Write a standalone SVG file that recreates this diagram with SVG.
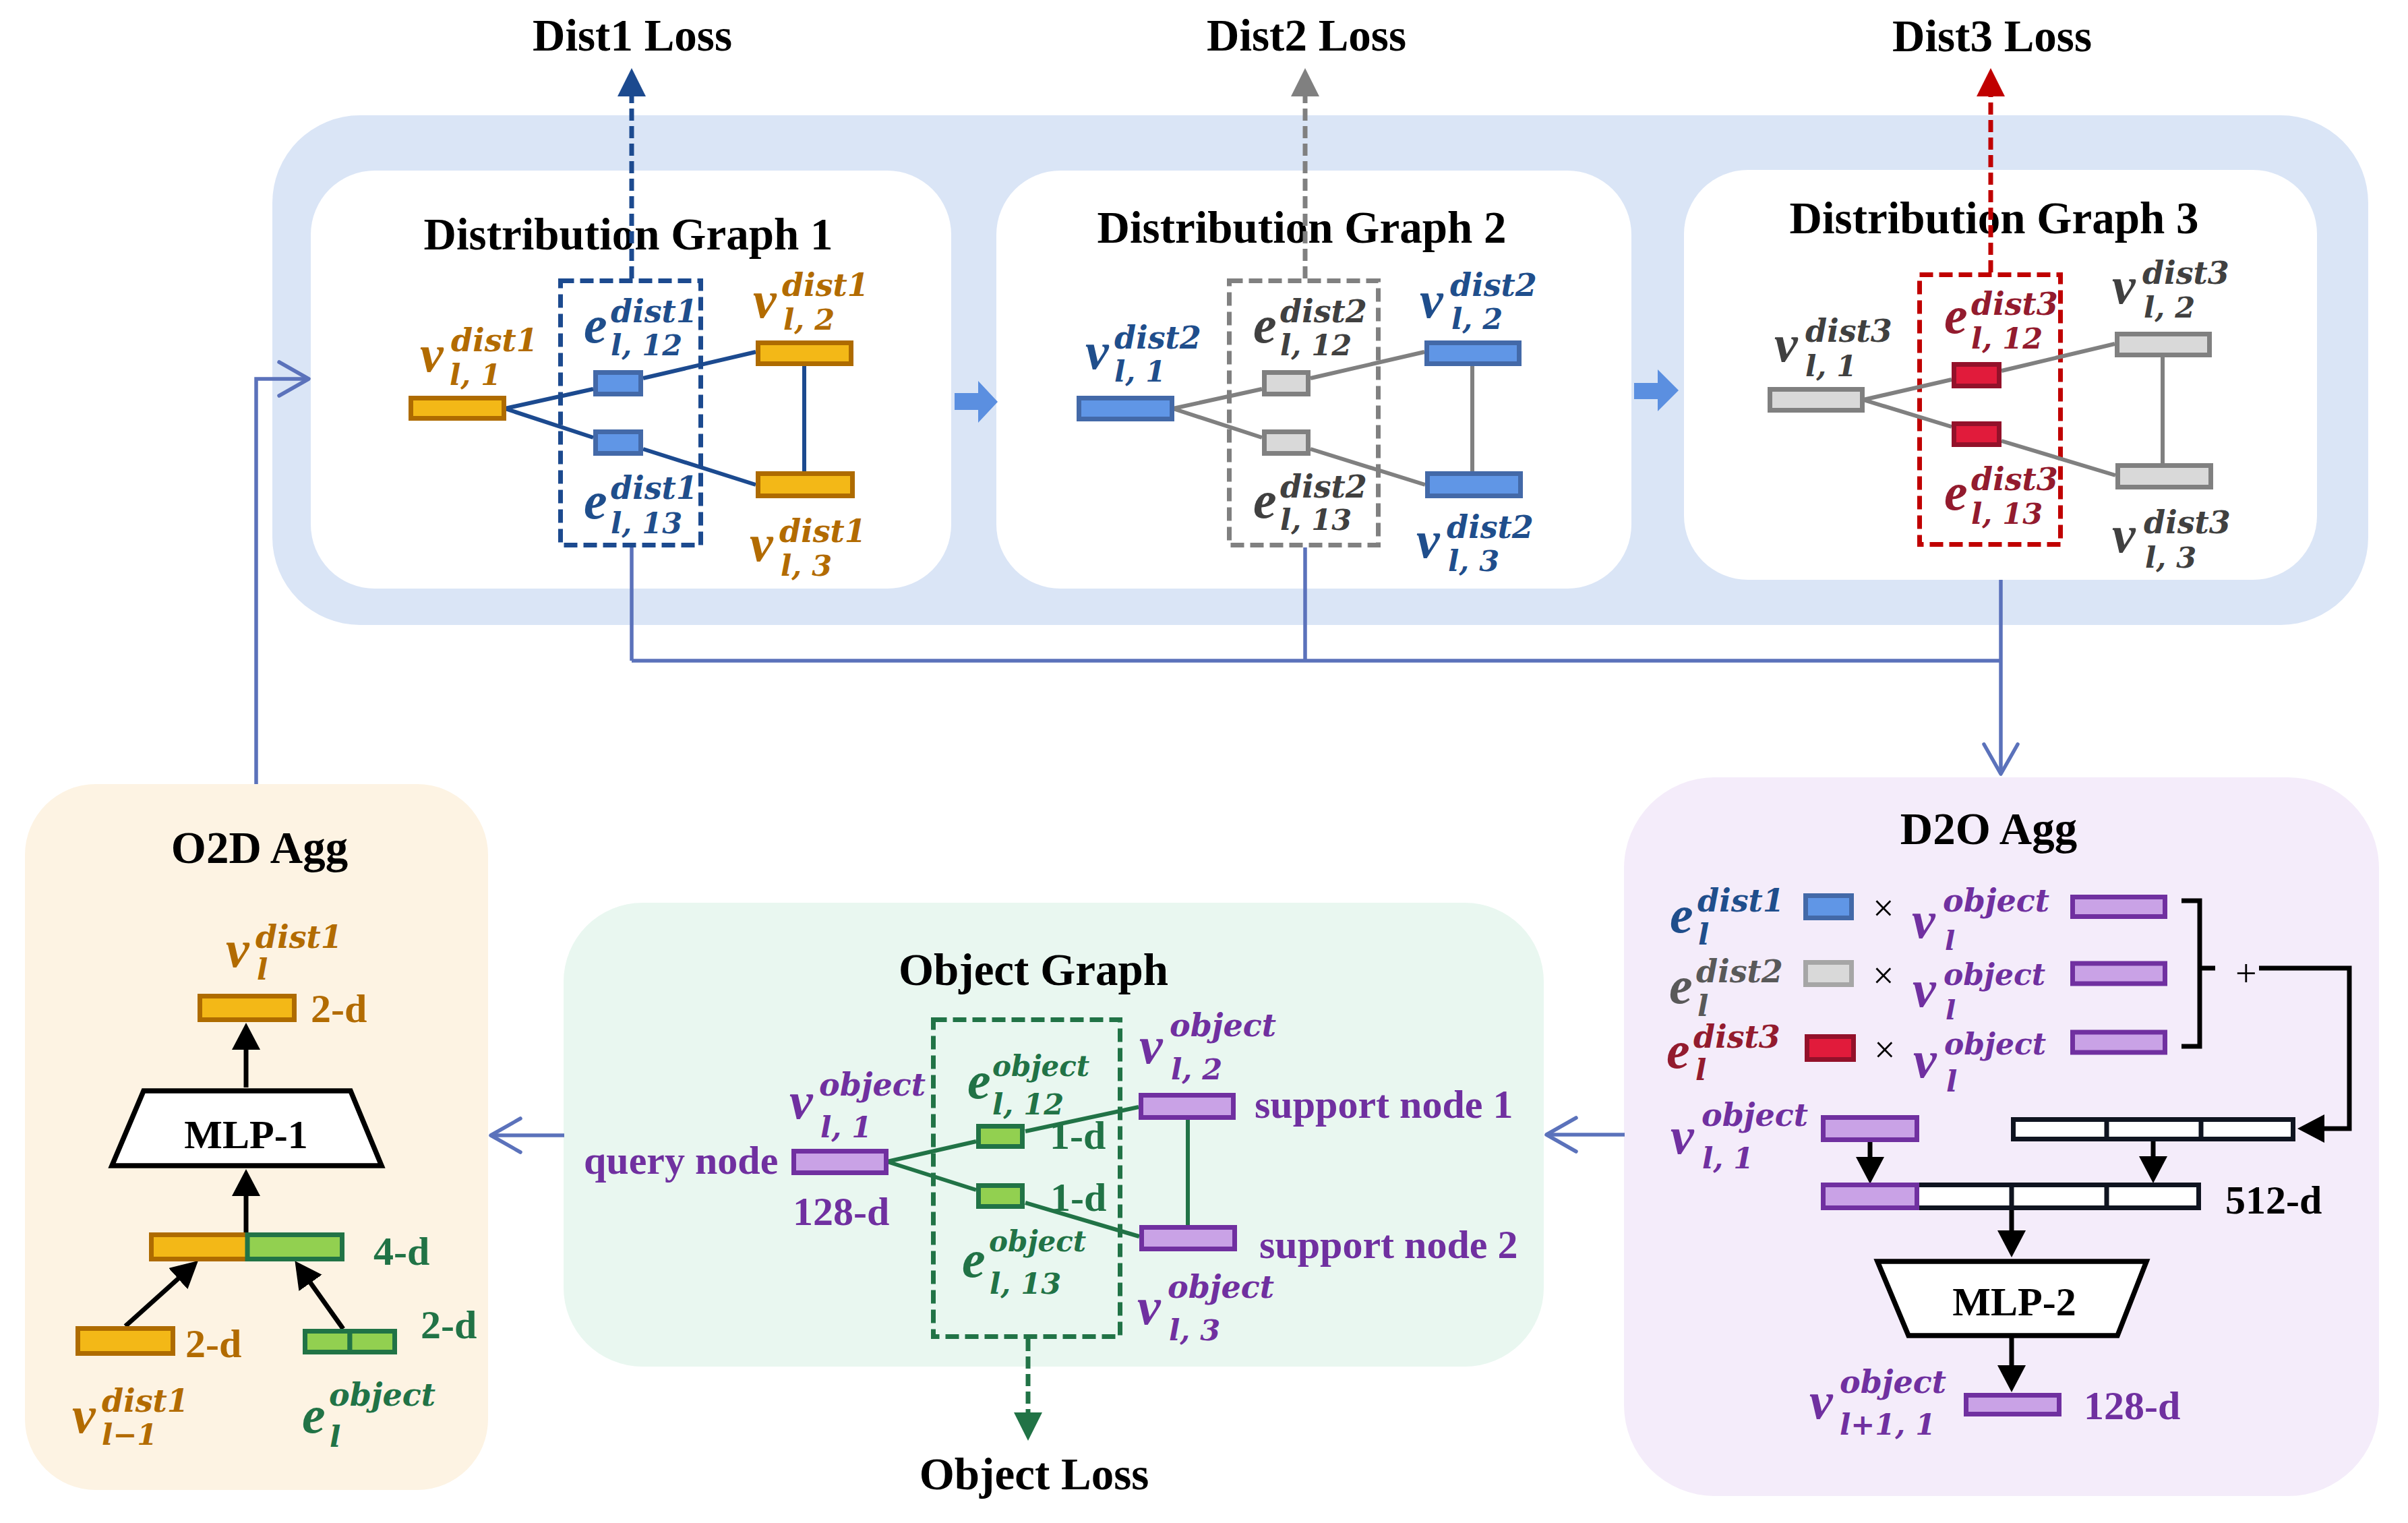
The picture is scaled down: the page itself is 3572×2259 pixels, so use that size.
<svg xmlns="http://www.w3.org/2000/svg" width="3572" height="2259" viewBox="0 0 3572 2259">
<style>
.t{font-family:"Liberation Serif","Times New Roman",serif;font-weight:bold;font-size:67px;fill:#000}
.l{font-family:"Liberation Serif","Times New Roman",serif;font-weight:bold;font-size:60px}
.m{font-family:"Liberation Serif","Times New Roman",serif;font-weight:bold;font-style:italic;font-size:78px}
.p{font-family:"DejaVu Serif",serif;font-weight:bold;font-style:italic;font-size:46px}
.p2{font-family:"DejaVu Serif",serif;font-weight:bold;font-style:italic;font-size:42px}
.p3{font-family:"DejaVu Serif",serif;font-weight:bold;font-style:italic;font-size:44px}
.b{font-family:"DejaVu Serif",serif;font-weight:bold;font-style:italic;font-size:43px}
.b2{font-family:"DejaVu Serif",serif;font-weight:bold;font-style:italic;font-size:40px}
.x{font-family:"Liberation Serif",serif;font-size:56px;fill:#000}
.cO{fill:#b26b00}.cB{fill:#1f4e8c}.cG{fill:#404040}.cR{fill:#931b2e}.cP{fill:#7030a0}.cE{fill:#217346}.cD{fill:#595959}.cK{fill:#000}
.gold{fill:#f3b817;stroke:#ae6b00;stroke-width:7}
.blu{fill:#6096e6;stroke:#4369a8;stroke-width:7}
.gry{fill:#d9d9d9;stroke:#808080;stroke-width:7}
.gry2{fill:#d9d9d9;stroke:#a6a6a6;stroke-width:7}
.red{fill:#e11b3b;stroke:#93112a;stroke-width:7}
.grn{fill:#92d050;stroke:#217346;stroke-width:7}
.pur{fill:#c9a2e6;stroke:#7030a0;stroke-width:7}
.wht{fill:#fff;stroke:#0f1420;stroke-width:7}
.dbox{fill:none;stroke-width:7;stroke-dasharray:20 9}
.flow{fill:none;stroke:#5b72bb;stroke-width:5.5}
.edge{fill:none;stroke-width:6}
.blk{fill:none;stroke:#000;stroke-width:7}
.loss{fill:none;stroke-width:7;stroke-dasharray:18 8}
</style>
<defs>
<marker id="hk" markerUnits="userSpaceOnUse" markerWidth="40" markerHeight="42" viewBox="0 0 40 42" refX="1" refY="21" orient="auto"><path d="M0,0 L40,21 L0,42 z" fill="#000"/></marker>
<marker id="hb" markerUnits="userSpaceOnUse" markerWidth="42" markerHeight="42" viewBox="0 0 42 42" refX="1" refY="21" orient="auto"><path d="M0,0 L42,21 L0,42 z" fill="#1c4a8f"/></marker>
<marker id="hg" markerUnits="userSpaceOnUse" markerWidth="42" markerHeight="42" viewBox="0 0 42 42" refX="1" refY="21" orient="auto"><path d="M0,0 L42,21 L0,42 z" fill="#808080"/></marker>
<marker id="hr" markerUnits="userSpaceOnUse" markerWidth="42" markerHeight="42" viewBox="0 0 42 42" refX="1" refY="21" orient="auto"><path d="M0,0 L42,21 L0,42 z" fill="#c00000"/></marker>
<marker id="he" markerUnits="userSpaceOnUse" markerWidth="42" markerHeight="42" viewBox="0 0 42 42" refX="1" refY="21" orient="auto"><path d="M0,0 L42,21 L0,42 z" fill="#217346"/></marker>
<marker id="ch" markerUnits="userSpaceOnUse" markerWidth="60" markerHeight="64" viewBox="-52 -32 60 64" refX="0" refY="0" orient="auto"><path d="M-44,-25 L0,0 L-44,25" fill="none" stroke="#5b72bb" stroke-width="5.5" stroke-linecap="round" stroke-linejoin="round"/></marker>
</defs>
<rect width="3572" height="2259" fill="#fff"/>

<!-- containers -->
<g id="dist-container">
<rect x="404" y="171" width="3109" height="756" rx="130" fill="#dae5f6"/>
</g>
<g id="dist-graph-1-frame">
<rect x="461" y="253" width="950" height="620" rx="95" fill="#fff"/>
<text class="t" x="932" y="370" text-anchor="middle">Distribution Graph 1</text>
<rect class="dbox" x="831.5" y="416.5" width="208" height="392" stroke="#1c4a8f"/>
</g>
<g id="dist-graph-2-frame">
<rect x="1478" y="253" width="942" height="620" rx="95" fill="#fff"/>
<text class="t" x="1931" y="360" text-anchor="middle">Distribution Graph 2</text>
<rect class="dbox" x="1823.5" y="416.5" width="221" height="392" stroke="#808080"/>
</g>
<g id="dist-graph-3-frame">
<rect x="2498" y="252" width="939" height="608" rx="95" fill="#fff"/>
<text class="t" x="2958" y="346" text-anchor="middle">Distribution Graph 3</text>
<rect class="dbox" x="2847.5" y="407.5" width="209" height="400" stroke="#c00000"/>
</g>
<g id="o2d-agg-frame">
<rect x="37" y="1163" width="687" height="1047" rx="105" fill="#fdf3e3"/>
<text class="t" x="385" y="1280" text-anchor="middle">O2D Agg</text>
</g>
<g id="object-graph-frame">
<rect x="836" y="1339" width="1454" height="688" rx="117" fill="#e9f7f0"/>
<text class="t" x="1533" y="1461" text-anchor="middle">Object Graph</text>
<rect class="dbox" x="1384.5" y="1512.5" width="277" height="470" stroke="#217346"/>
</g>
<g id="d2o-agg-frame">
<rect x="2409" y="1153" width="1120" height="1066" rx="135" fill="#f4ecfa"/>
<text class="t" x="2950" y="1252" text-anchor="middle">D2O Agg</text>
</g>

<!-- loss labels -->
<g id="loss-labels">
<text class="t" x="938" y="75" text-anchor="middle">Dist1 Loss</text>
<text class="t" x="1938" y="75" text-anchor="middle">Dist2 Loss</text>
<text class="t" x="2955" y="76" text-anchor="middle">Dist3 Loss</text>
<text class="t" x="1534" y="2209" text-anchor="middle">Object Loss</text>
</g>

<!-- connectors -->
<g id="connectors">
<path class="loss" d="M937,413 V142" stroke="#1c4a8f" marker-end="url(#hb)"/>
<path class="loss" d="M1936,413 V142" stroke="#808080" marker-end="url(#hg)"/>
<path class="loss" d="M2953,404 V142" stroke="#c00000" marker-end="url(#hr)"/>
<path class="loss" d="M1525,1986 V2096" stroke="#217346" marker-end="url(#he)"/>
<path d="M1416,583 H1451 V565 L1480,596 L1451,627 V608 H1416 z" fill="#5b8fe0"/>
<path d="M2424,568 H2459 V548 L2490,579 L2459,610 V592 H2424 z" fill="#5b8fe0"/>
<path class="flow" d="M380,1163 V562 H458" marker-end="url(#ch)"/>
<path class="flow" d="M937,812 V980 M1936,812 V980 M937,980 H2968"/>
<path class="flow" d="M2968,860 V1148" marker-end="url(#ch)"/>
<path class="flow" d="M2410,1683 H2294" marker-end="url(#ch)"/>
<path class="flow" d="M837,1684 H728" marker-end="url(#ch)"/>
<path class="edge" stroke="#1c4a8f" d="M749,606 L880,577 M954,561 L1121,522 M749,606 L880,649 M954,666 L1121,719 M1193,543 V699"/>
<path class="edge" stroke="#808080" d="M1740,606 L1872,577 M1944,561 L2113,522 M1740,606 L1872,649 M1944,666 L2114,719 M2184,543 V699"/>
<path class="edge" stroke="#808080" d="M2764,593 L2895,563 M2969,550 L3137,510 M2764,593 L2895,633 M2969,654 L3138,705 M3208,530 V687"/>
<path class="edge" stroke="#217346" d="M1316,1723 L1448,1693 M1521,1678 L1689,1642 M1316,1723 L1448,1765 M1521,1784 L1690,1834 M1762,1661 V1817"/>
<path class="blk" d="M365,1613 V1556" marker-end="url(#hk)"/>
<path class="blk" d="M365,1831 V1773" marker-end="url(#hk)"/>
<path class="blk" d="M186,1967 L265,1896" marker-end="url(#hk)"/>
<path class="blk" d="M509,1971 L460,1902" marker-end="url(#hk)"/>
<path class="blk" d="M3236,1336 H3263 V1552 H3236 M3263,1436 H3286"/>
<path class="blk" d="M3351,1436 H3485 V1674 H3447" marker-end="url(#hk)"/>
<path class="blk" d="M3194,1693 V1716" marker-end="url(#hk)"/>
<path class="blk" d="M2774,1694 V1717" marker-end="url(#hk)"/>
<path class="blk" d="M2984,1793 V1826" marker-end="url(#hk)"/>
<path class="blk" d="M2984,1984 V2026" marker-end="url(#hk)"/>
</g>

<!-- Distribution graph 1 nodes -->
<g id="dg1-v1"><rect class="gold" x="609.5" y="590.5" width="138" height="30"/>
<text class="m cO" x="623" y="551">v</text><text class="p cO" x="669" y="521">dist1</text><text class="b cO" x="667" y="571">l, 1</text></g>
<g id="dg1-e12"><rect class="blu" x="883.5" y="552.5" width="67" height="32"/>
<text class="m cB" x="866" y="508">e</text><text class="p cB" x="906" y="478">dist1</text><text class="b cB" x="906" y="527">l, 12</text></g>
<g id="dg1-e13"><rect class="blu" x="883.5" y="640.5" width="67" height="32"/>
<text class="m cB" x="866" y="769">e</text><text class="p cB" x="906" y="740">dist1</text><text class="b cB" x="906" y="791">l, 13</text></g>
<g id="dg1-v2"><rect class="gold" x="1124.5" y="508.5" width="138" height="31"/>
<text class="m cO" x="1117" y="471">v</text><text class="p cO" x="1160" y="439">dist1</text><text class="b cO" x="1162" y="489">l, 2</text></g>
<g id="dg1-v3"><rect class="gold" x="1124.5" y="702.5" width="140" height="33"/>
<text class="m cO" x="1112" y="832">v</text><text class="p cO" x="1156" y="804">dist1</text><text class="b cO" x="1158" y="854">l, 3</text></g>

<!-- Distribution graph 2 nodes -->
<g id="dg2-v1"><rect class="blu" x="1600.5" y="590.5" width="138" height="31"/>
<text class="m cB" x="1610" y="547">v</text><text class="p cB" x="1653" y="517">dist2</text><text class="b cB" x="1653" y="566">l, 1</text></g>
<g id="dg2-e12"><rect class="gry" x="1875.5" y="552.5" width="65" height="32"/>
<text class="m cG" x="1859" y="508">e</text><text class="p cG" x="1899" y="478">dist2</text><text class="b cG" x="1899" y="527">l, 12</text></g>
<g id="dg2-e13"><rect class="gry" x="1875.5" y="640.5" width="65" height="32"/>
<text class="m cG" x="1859" y="768">e</text><text class="p cG" x="1899" y="738">dist2</text><text class="b cG" x="1899" y="786">l, 13</text></g>
<g id="dg2-v2"><rect class="blu" x="2116.5" y="508.5" width="137" height="31"/>
<text class="m cB" x="2106" y="471">v</text><text class="p cB" x="2151" y="439">dist2</text><text class="b cB" x="2153" y="488">l, 2</text></g>
<g id="dg2-v3"><rect class="blu" x="2117.5" y="702.5" width="138" height="33"/>
<text class="m cB" x="2101" y="827">v</text><text class="p cB" x="2146" y="798">dist2</text><text class="b cB" x="2148" y="847">l, 3</text></g>

<!-- Distribution graph 3 nodes -->
<g id="dg3-v1"><rect class="gry" x="2625.5" y="577.5" width="137" height="31"/>
<text class="m cG" x="2632" y="536">v</text><text class="p cG" x="2678" y="507">dist3</text><text class="b cG" x="2678" y="558">l, 1</text></g>
<g id="dg3-e12"><rect class="red" x="2898.5" y="540.5" width="67" height="32"/>
<text class="m cR" x="2884" y="494">e</text><text class="p cR" x="2924" y="467">dist3</text><text class="b cR" x="2924" y="517">l, 12</text></g>
<g id="dg3-e13"><rect class="red" x="2898.5" y="628.5" width="67" height="31"/>
<text class="m cR" x="2884" y="756">e</text><text class="p cR" x="2924" y="727">dist3</text><text class="b cR" x="2924" y="777">l, 13</text></g>
<g id="dg3-v2"><rect class="gry" x="3140.5" y="495.5" width="137" height="31"/>
<text class="m cG" x="3133" y="450">v</text><text class="p cG" x="3178" y="421">dist3</text><text class="b cG" x="3180" y="471">l, 2</text></g>
<g id="dg3-v3"><rect class="gry" x="3141.5" y="690.5" width="138" height="32"/>
<text class="m cG" x="3133" y="819">v</text><text class="p cG" x="3180" y="791">dist3</text><text class="b cG" x="3182" y="842">l, 3</text></g>

<!-- O2D Agg -->
<g id="o2d-out"><rect class="gold" x="296.5" y="1477.5" width="140" height="35"/>
<text class="m cO" x="335" y="1434">v</text><text class="p cO" x="379" y="1406">dist1</text><text class="b cO" x="381" y="1453">l</text>
<text class="l cO" x="461" y="1516">2-d</text></g>
<g id="mlp-1"><path d="M213,1618 H520 L566,1729 H166 z" fill="#fff" stroke="#000" stroke-width="7.5"/>
<text class="l cK" x="365" y="1703" text-anchor="middle">MLP-1</text></g>
<g id="o2d-concat"><rect class="gold" x="224.5" y="1831.5" width="143" height="36"/><rect class="grn" x="367" y="1831.5" width="140.5" height="36"/>
<text class="l cE" x="554" y="1876">4-d</text></g>
<g id="o2d-vprev"><rect class="gold" x="115.5" y="1970.5" width="141" height="37"/>
<text class="l cO" x="275" y="2013">2-d</text>
<text class="m cO" x="107" y="2125">v</text><text class="p cO" x="151" y="2094">dist1</text><text class="b cO" x="151" y="2143">l−1</text></g>
<g id="o2d-eobj"><rect class="grn" x="452.5" y="1974.5" width="66.5" height="31"/><rect class="grn" x="519" y="1974.5" width="66.5" height="31"/>
<text class="l cE" x="624" y="1985">2-d</text>
<text class="m cE" x="448" y="2125">e</text><text class="p cE" x="488" y="2085">object</text><text class="b cE" x="489" y="2146">l</text></g>

<!-- Object graph -->
<g id="obj-v1"><rect class="pur" x="1177.5" y="1707.5" width="137" height="32"/>
<text class="l cP" x="866" y="1741">query node</text><text class="l cP" x="1176" y="1817">128-d</text>
<text class="m cP" x="1171" y="1659">v</text><text class="p cP" x="1215" y="1625">object</text><text class="b cP" x="1217" y="1687">l, 1</text></g>
<g id="obj-e12"><rect class="grn" x="1451.5" y="1670.5" width="65" height="30"/>
<text class="m cE" x="1435" y="1629">e</text><text class="p2 cE" x="1472" y="1596">object</text><text class="b cE" x="1472" y="1653">l, 12</text>
<text class="l cE" x="1557" y="1704">1-d</text></g>
<g id="obj-e13"><rect class="grn" x="1451.5" y="1758.5" width="65" height="31"/>
<text class="m cE" x="1427" y="1894">e</text><text class="p2 cE" x="1467" y="1856">object</text><text class="b cE" x="1468" y="1919">l, 13</text>
<text class="l cE" x="1558" y="1796">1-d</text></g>
<g id="obj-v2"><rect class="pur" x="1692.5" y="1624.5" width="137" height="33"/>
<text class="l cP" x="1861" y="1658">support node 1</text>
<text class="m cP" x="1690" y="1577">v</text><text class="p cP" x="1735" y="1537">object</text><text class="b cP" x="1737" y="1601">l, 2</text></g>
<g id="obj-v3"><rect class="pur" x="1693.5" y="1820.5" width="138" height="32"/>
<text class="l cP" x="1868" y="1866">support node 2</text>
<text class="m cP" x="1687" y="1964">v</text><text class="p cP" x="1732" y="1925">object</text><text class="b cP" x="1734" y="1988">l, 3</text></g>

<!-- D2O Agg -->
<g id="d2o-row1"><rect class="blu" x="2678.5" y="1328.5" width="68" height="33"/>
<text class="m cB" x="2477" y="1383">e</text><text class="p cB" x="2518" y="1352">dist1</text><text class="b cB" x="2519" y="1401">l</text>
<text class="x" x="2778" y="1366">×</text>
<text class="m cP" x="2836" y="1391">v</text><text class="p cP" x="2882" y="1352">object</text><text class="b2 cP" x="2885" y="1409">l</text>
<rect class="pur" x="3074.5" y="1330.5" width="137" height="29"/></g>
<g id="d2o-row2"><rect class="gry2" x="2678.5" y="1427.5" width="68" height="33"/>
<text class="m cD" x="2476" y="1488">e</text><text class="p cD" x="2516" y="1457">dist2</text><text class="b cD" x="2518" y="1507">l</text>
<text class="x" x="2778" y="1466">×</text>
<text class="m cP" x="2837" y="1493">v</text><text class="p3 cP" x="2883" y="1461">object</text><text class="b2 cP" x="2886" y="1512">l</text>
<rect class="pur" x="3074.5" y="1429" width="137" height="30"/></g>
<g id="d2o-row3"><rect class="red" x="2680.5" y="1537.5" width="69" height="34"/>
<text class="m cR" x="2472" y="1584">e</text><text class="p cR" x="2512" y="1554">dist3</text><text class="b cR" x="2515" y="1602">l</text>
<text class="x" x="2780" y="1576">×</text>
<text class="m cP" x="2838" y="1598">v</text><text class="p3 cP" x="2884" y="1564">object</text><text class="b cP" x="2887" y="1619">l</text>
<rect class="pur" x="3074.5" y="1531" width="137" height="30"/></g>
<g id="d2o-sum"><text class="x" x="3316" y="1463">+</text></g>
<g id="d2o-concat1"><rect class="wht" x="2986.5" y="1660.5" width="415" height="29"/><path d="M3125,1661 V1690 M3265,1661 V1690" stroke="#0f1420" stroke-width="7"/></g>
<g id="d2o-vl1"><rect class="pur" x="2704.5" y="1657.5" width="139" height="33"/>
<text class="m cP" x="2478" y="1711">v</text><text class="p cP" x="2524" y="1670">object</text><text class="b cP" x="2525" y="1733">l, 1</text></g>
<g id="d2o-concat2"><rect class="wht" x="2704.5" y="1757.5" width="557" height="34"/><path d="M2984,1758 V1791 M3125,1758 V1791" stroke="#0f1420" stroke-width="7"/><rect class="pur" x="2704.5" y="1757.5" width="139" height="34"/>
<text class="l cK" x="3301" y="1800">512-d</text></g>
<g id="mlp-2"><path d="M2785,1871 H3184 L3141,1981 H2831 z" fill="#fff" stroke="#000" stroke-width="7.5"/>
<text class="l cK" x="2988" y="1951" text-anchor="middle">MLP-2</text></g>
<g id="d2o-out"><rect class="pur" x="2916.5" y="2069.5" width="138" height="28"/>
<text class="l cP" x="3091" y="2105">128-d</text>
<text class="m cP" x="2684" y="2104">v</text><text class="p cP" x="2729" y="2066">object</text><text class="b cP" x="2729" y="2128">l+1, 1</text></g>
</svg>
